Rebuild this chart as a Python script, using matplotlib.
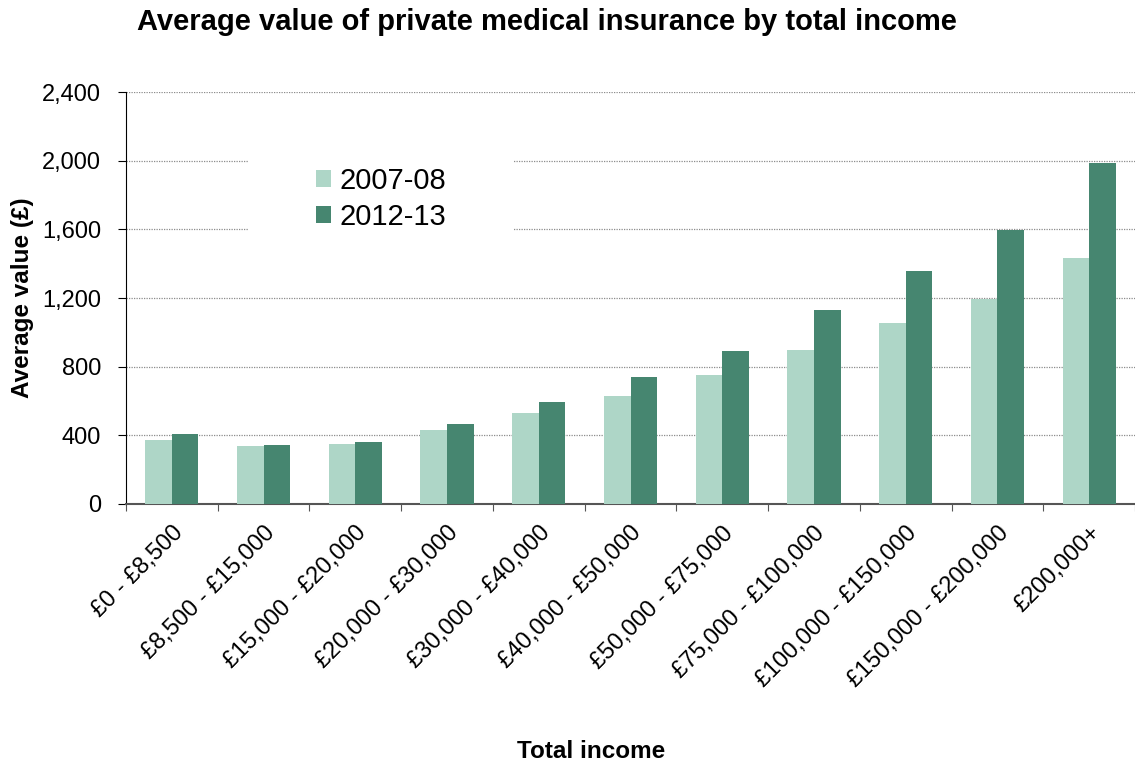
import matplotlib
matplotlib.use('Agg')
import matplotlib.pyplot as plt
import numpy as np
from matplotlib.patches import Rectangle
from matplotlib.ticker import FuncFormatter, MultipleLocator

plt.rcParams['font.family'] = ['Liberation Sans', 'DejaVu Sans']

categories = ['£0 - £8,500', '£8,500 - £15,000', '£15,000 - £20,000',
              '£20,000 - £30,000', '£30,000 - £40,000', '£40,000 - £50,000',
              '£50,000 - £75,000', '£75,000 - £100,000', '£100,000 - £150,000',
              '£150,000 - £200,000', '£200,000+']
values_0708 = [373, 340, 351, 429, 532, 627, 753, 897, 1054, 1194, 1433]
values_1213 = [409, 342, 361, 464, 592, 741, 891, 1130, 1355, 1596, 1988]
series_names = ['2007-08', '2012-13']

LIGHT = '#AED6C7'
DARK = '#468670'

W, H = 1135, 765
fig = plt.figure(figsize=(W / 100, H / 100), dpi=100)
ax = fig.add_axes([126 / W, 1 - 504 / H, 1 - 126 / W, (504 - 92) / H])

x = np.arange(len(categories))
w = 0.29
ax.bar(x - w / 2, values_0708, width=w, color=LIGHT, label=series_names[0], zorder=3)
ax.bar(x + w / 2, values_1213, width=w, color=DARK, label=series_names[1], zorder=3)

ax.set_xlim(-0.5, len(categories) - 0.5)
ax.set_ylim(0, 2400)
ax.yaxis.set_major_locator(MultipleLocator(400))
ax.yaxis.set_major_formatter(FuncFormatter(lambda v, p: f'{int(v):,}'))
ax.grid(axis='y', color='#8c8c8c', linestyle=(0, (1, 1)), linewidth=0.9, zorder=0)

# category boundary ticks, labels centred on groups
ax.set_xticks(np.arange(len(categories) + 1) - 0.5)
ax.set_xticklabels([])
ax.set_xticks(x, minor=True)
ax.set_xticklabels(categories, minor=True, rotation=45, ha='right',
                   rotation_mode='anchor', fontsize=17)
ax.tick_params(axis='x', which='minor', length=0, pad=13)
ax.tick_params(axis='x', which='major', length=5, color='#555555')
ax.tick_params(axis='y', length=5.8, labelsize=17, pad=12)

for s in ['top', 'right']:
    ax.spines[s].set_visible(False)
ax.spines['left'].set_color('black')
ax.spines['bottom'].set_color('#555555')
ax.spines['bottom'].set_linewidth(1.5)

ax.set_ylabel('Average value (£)', fontsize=17.5, fontweight='bold')
ax.yaxis.set_label_coords(-0.091, 0.5)

# white block behind the legend hides the gridlines there
ax.add_patch(Rectangle((248 / W, 1 - 245 / H), (513 - 248) / W, 105 / H,
                       transform=fig.transFigure, facecolor='white',
                       edgecolor='none', zorder=2))
leg = ax.legend(loc='center left', bbox_to_anchor=(316 / W, 1 - 199 / H),
                bbox_transform=fig.transFigure, fontsize=21, frameon=False,
                handlelength=0.52, handleheight=0.52, handletextpad=0.3,
                borderpad=0, borderaxespad=0, labelspacing=0.28)
leg.set_zorder(5)

fig.text(547 / W, 1 - 22 / H, 'Average value of private medical insurance by total income',
         ha='center', va='center', fontsize=21, fontweight='bold')
fig.text(591 / W, 1 - 752 / H, 'Total income', ha='center', va='center',
         fontsize=17.5, fontweight='bold')

fig.savefig('out.png', dpi=100)
